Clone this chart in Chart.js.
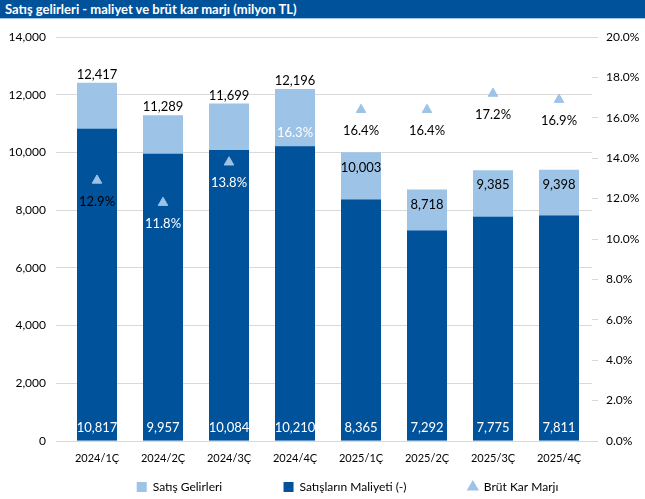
<!DOCTYPE html>
<html>
<head>
<meta charset="utf-8">
<script src="https://cdn.jsdelivr.net/npm/chart.js@4"></script>
<style>
  body { margin: 0; background: #fff; }
  #wrap { position: relative; width: 645px; height: 499px; }
  #title {
    position: absolute; left: 0; top: 0; width: 645px; height: 19px;
    background: #00529b; border-bottom: 1px solid #9dc3e6;
    color: #fff; font: bold 13px Lato, sans-serif; line-height: 19px;
    padding-left: 5px; box-sizing: border-box;
  }
</style>
</head>
<body>
<div id="wrap">
  <div id="title">Satış gelirleri - maliyet ve brüt kar marjı (milyon TL)</div>
  <canvas id="myChart" width="645" height="499"></canvas>
</div>
<script>
const quarters = ['2024/1Ç', '2024/2Ç', '2024/3Ç', '2024/4Ç', '2025/1Ç', '2025/2Ç', '2025/3Ç', '2025/4Ç'];
const revenue = [12417, 11289, 11699, 12196, 10003, 8718, 9385, 9398];
const cost = [10817, 9957, 10084, 10210, 8365, 7292, 7775, 7811];
const margin = [12.9, 11.8, 13.8, 16.3, 16.4, 16.4, 17.2, 16.9];

const darkBlue = '#00529b';
const lightBlue = '#9dc3e6';
const fontFam = 'Lato, sans-serif';

// labels on bars and markers
const labelPlugin = {
  id: 'labels',
  afterLayout(chart) {
    // legend sits a bit right of centre in the original
    chart.legend.left += 25;
    chart.legend.right += 25;
  },
  afterDatasetsDraw(chart) {
    const ctx = chart.ctx;
    ctx.save();
    ctx.font = '13px ' + fontFam;
    ctx.textAlign = 'center';
    ctx.textBaseline = 'middle';
    const fmt = v => v.toLocaleString('en-US');

    chart.getDatasetMeta(0).data.forEach((bar, i) => {
      ctx.fillStyle = '#000';
      const y = i < 4 ? bar.y - 8 : bar.y + 15;
      ctx.fillText(fmt(revenue[i]), bar.x, y);
    });
    chart.getDatasetMeta(1).data.forEach((bar, i) => {
      ctx.fillStyle = '#fff';
      ctx.fillText(fmt(cost[i]), bar.x, chart.chartArea.bottom - 13);
    });
    chart.getDatasetMeta(2).data.forEach((pt, i) => {
      ctx.fillStyle = (i >= 1 && i <= 3) ? '#fff' : '#000';
      ctx.fillText(margin[i].toFixed(1) + '%', pt.x, pt.y + 21);
    });
    ctx.restore();
  }
};

new Chart(document.getElementById('myChart'), {
  type: 'bar',
  data: {
    labels: quarters,
    datasets: [{
      label: 'Satış Gelirleri',
      data: revenue,
      backgroundColor: lightBlue,
      grouped: false,
      order: 2
    }, {
      label: 'Satışların Maliyeti (-)',
      data: cost,
      backgroundColor: darkBlue,
      grouped: false,
      order: 1
    }, {
      type: 'line',
      label: 'Brüt Kar Marjı',
      data: margin,
      yAxisID: 'y1',
      showLine: false,
      pointStyle: 'triangle',
      pointRadius: 5.5,
      backgroundColor: lightBlue,
      borderColor: lightBlue,
      order: 0
    }]
  },
  options: {
    responsive: false,
    animation: false,
    categoryPercentage: 1,
    barPercentage: 0.606,
    layout: { padding: { top: 37, left: 0, right: 0, bottom: -4 } },
    plugins: {
      tooltip: { enabled: false },
      legend: {
        position: 'bottom',
        labels: {
          sort: (a, b) => a.datasetIndex - b.datasetIndex,
          usePointStyle: true,
          boxWidth: 10,
          boxHeight: 10,
          padding: 6,
          color: '#000',
          font: { family: fontFam, size: 12 },
          generateLabels(chart) {
            const items = Chart.defaults.plugins.legend.labels.generateLabels(chart);
            const ctx = chart.ctx;
            ctx.save();
            ctx.font = '12px ' + fontFam;
            items.forEach(it => {
              it.pointStyle = it.datasetIndex === 2 ? 'triangle' : 'rect';
              it.lineWidth = 0;
              if (it.datasetIndex < 2) {
                // wider gap between legend entries
                const target = ctx.measureText(it.text).width + 54;
                while (ctx.measureText(it.text).width < target) it.text += '\u00a0';
              }
            });
            ctx.restore();
            return items;
          }
        }
      }
    },
    scales: {
      x: {
        grid: { display: false },
        border: { color: '#d9d9d9', width: 1 },
        ticks: { color: '#000', font: { family: fontFam, size: 11 }, padding: 3 },
        afterFit(s) { s.height = 34; }
      },
      y: {
        min: 0, max: 14000,
        ticks: {
          stepSize: 2000, color: '#000', padding: 10,
          font: { family: fontFam, size: 12 },
          callback: v => v.toLocaleString('en-US')
        },
        grid: { color: '#d9d9d9', tickLength: 8 },
        border: { display: false },
        afterFit(s) { s.width = 64; }
      },
      y1: {
        position: 'right',
        min: 0, max: 20,
        ticks: {
          stepSize: 2, color: '#000', padding: 8,
          font: { family: fontFam, size: 12 },
          callback: v => v.toFixed(1) + '%'
        },
        grid: { drawOnChartArea: false, color: '#d9d9d9', tickLength: 6 },
        border: { display: false },
        afterFit(s) { s.width = 53; }
      }
    }
  },
  plugins: [labelPlugin]
});
</script>
</body>
</html>
